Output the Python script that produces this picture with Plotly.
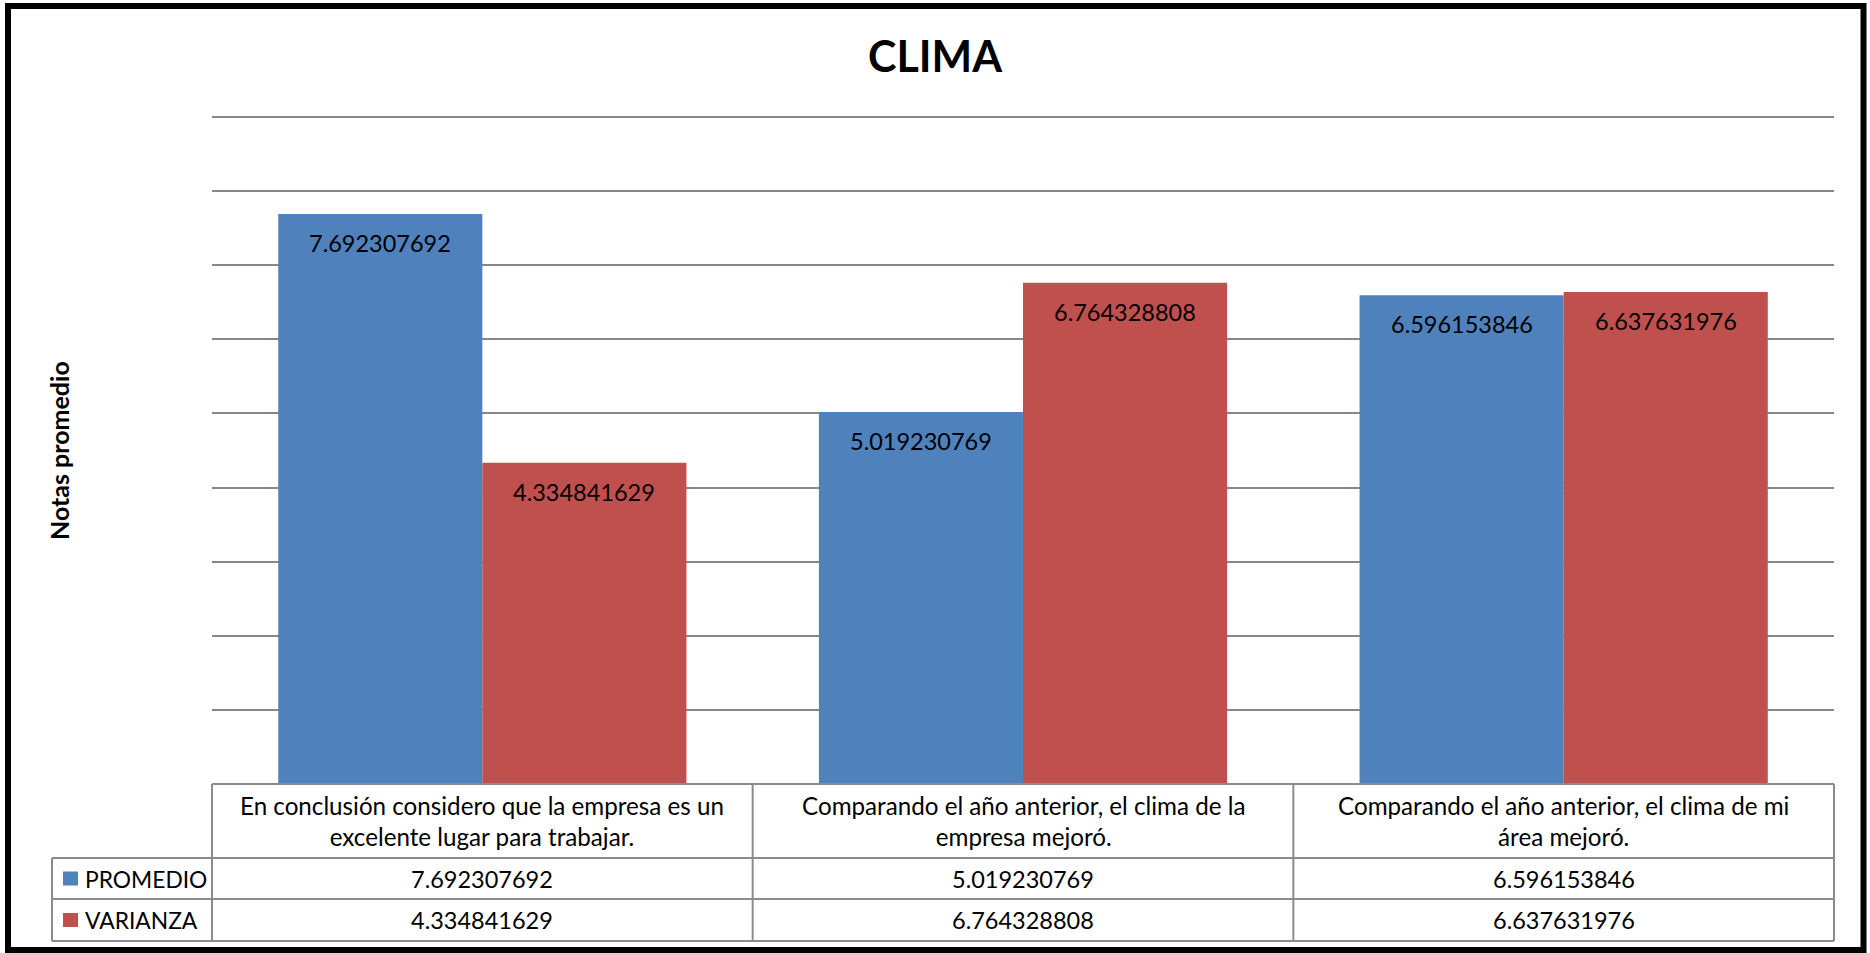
import plotly.graph_objects as go

# ---------------- data ----------------
categories = [
    "En conclusión considero que la empresa es un<br>excelente lugar para trabajar.",
    "Comparando el año anterior, el clima de la<br>empresa mejoró.",
    "Comparando el año anterior, el clima de mi<br>área mejoró.",
]
series_names = ["PROMEDIO", "VARIANZA"]
promedio = [7.692307692, 5.019230769, 6.596153846]
varianza = [4.334841629, 6.764328808, 6.637631976]
series_values = [promedio, varianza]
series_colors = ["#4F81BD", "#C0504D"]
title_text = "CLIMA"
y_title = "Notas promedio"
y_max = 9

# ---------------- layout geometry (pixels) ----------------
W, H = 1870, 953
PL, PR, PT, PB = 212, 1834, 117, 784
FONT = "Lato"
bargap = 0.245


def px(x):
    return (x - PL) / (PR - PL)


def py(y):
    return (PB - y) / (PB - PT)


fig = go.Figure()
for name, vals, col in zip(series_names, series_values, series_colors):
    fig.add_trace(go.Bar(
        x=categories, y=vals, name=name,
        marker=dict(color=col, line=dict(width=0)),
        hoverinfo="x+y+name",
    ))

shapes = []
annotations = []

# bar value labels
catw = (PR - PL) / len(categories)
bw = (1 - bargap) * catw / len(series_names)
for si, vals in enumerate(series_values):
    offset = (si - (len(series_names) - 1) / 2) * bw
    for c, v in zip(categories, vals):
        annotations.append(dict(
            x=c, y=v, xref="x", yref="y", text=f"{v:.10g}",
            showarrow=False, xshift=offset, yshift=-29,
            xanchor="center", yanchor="middle",
            font=dict(family=FONT, size=23.5, color="#000000"),
        ))

# top gridline at the axis maximum (top edge of the plot area)
shapes.append(dict(type="line", xref="paper", yref="paper", x0=0, x1=1, y0=1, y1=1,
                   line=dict(color="#878787", width=2)))

# data table
gray = "#8C8C8C"
lw = 2
row_tops = [784, 858, 899, 941]
leg_left = 52
ncat = len(categories)
bounds = [PL + i * catw for i in range(ncat + 1)]
# horizontal lines
shapes.append(dict(type="line", xref="paper", yref="paper", x0=px(bounds[0]), x1=px(bounds[-1]),
                   y0=py(row_tops[0]), y1=py(row_tops[0]), line=dict(color=gray, width=lw)))
for yy in row_tops[1:]:
    shapes.append(dict(type="line", xref="paper", yref="paper", x0=px(leg_left), x1=px(bounds[-1]),
                       y0=py(yy), y1=py(yy), line=dict(color=gray, width=lw)))
# vertical lines
shapes.append(dict(type="line", xref="paper", yref="paper", x0=px(leg_left), x1=px(leg_left),
                   y0=py(row_tops[1]), y1=py(row_tops[-1]), line=dict(color=gray, width=lw)))
for b in bounds:
    shapes.append(dict(type="line", xref="paper", yref="paper", x0=px(b), x1=px(b),
                       y0=py(row_tops[0]), y1=py(row_tops[-1]), line=dict(color=gray, width=lw)))

# header texts
for c in categories:
    annotations.append(dict(
        x=c, y=py((row_tops[0] + row_tops[1]) / 2), xref="x", yref="paper", text=c,
        showarrow=False, xanchor="center", yanchor="middle", align="center",
        font=dict(family=FONT, size=24.2, color="#000000"),
    ))

# value rows
for si, (name, vals, col) in enumerate(zip(series_names, series_values, series_colors)):
    top, bot = row_tops[si + 1], row_tops[si + 2]
    cy = (top + bot) / 2
    shapes.append(dict(type="rect", xref="paper", yref="paper",
                       x0=px(63), x1=px(78), y0=py(cy - 7), y1=py(cy + 7),
                       fillcolor=col, line=dict(width=0)))
    annotations.append(dict(
        x=px(83), y=py(cy), xref="paper", yref="paper", text=name,
        showarrow=False, xanchor="left", yanchor="middle",
        font=dict(family=FONT, size=22.8, color="#000000"),
    ))
    for c, v in zip(categories, vals):
        annotations.append(dict(
            x=c, y=py(cy), xref="x", yref="paper", text=f"{v:.10g}",
            showarrow=False, xanchor="center", yanchor="middle",
            font=dict(family=FONT, size=23.5, color="#000000"),
        ))

# y axis title
annotations.append(dict(
    x=px(59), y=py(451), xref="paper", yref="paper", text=f"<b>{y_title}</b>",
    showarrow=False, textangle=-90, xanchor="center", yanchor="middle",
    font=dict(family=FONT, size=25, color="#000000"),
))

# outer chart border
shapes.append(dict(type="rect", xref="paper", yref="paper",
                   x0=px(8), x1=px(1863.5), y0=py(6), y1=py(950),
                   line=dict(color="#000000", width=6), fillcolor="rgba(0,0,0,0)"))

fig.update_layout(
    width=W, height=H,
    margin=dict(l=PL, r=W - PR, t=PT, b=H - PB, pad=0),
    paper_bgcolor="#FFFFFF", plot_bgcolor="#FFFFFF",
    barmode="group", bargap=bargap, bargroupgap=0,
    showlegend=False,
    title=dict(text=f"<b>{title_text}</b>", x=0.5, xref="container", xanchor="center",
               y=1 - 57 / H, yref="container", yanchor="middle",
               font=dict(family=FONT, size=43, color="#000000")),
    xaxis=dict(showticklabels=False, ticks="", showgrid=False, zeroline=False,
               showline=False, range=[-0.5, ncat - 0.5]),
    yaxis=dict(range=[0, y_max], dtick=1, tick0=0, showticklabels=False, ticks="",
               showgrid=True, gridcolor="#878787", gridwidth=2, zeroline=False,
               showline=False),
    shapes=shapes,
    annotations=annotations,
    font=dict(family=FONT),
)

fig.write_html("out.html")
